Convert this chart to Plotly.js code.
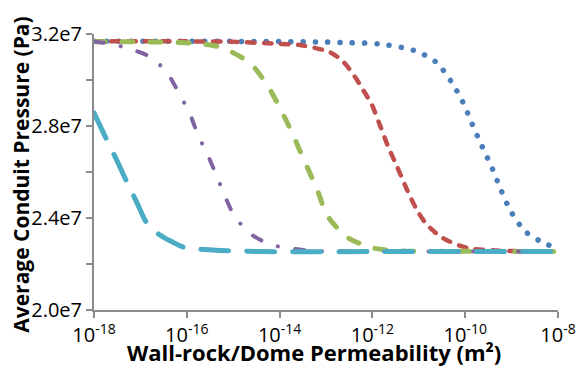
<!DOCTYPE html>
<html>
<head>
<meta charset="utf-8">
<script src="https://cdn.plot.ly/plotly-3.0.1.min.js"></script>
<style>
html,body{margin:0;padding:0;background:#fff;}
#chart{width:579px;height:371px;}
.js-line{stroke-linecap:round !important;stroke-linejoin:round !important;}
</style>
</head>
<body>
<div id="chart"></div>
<script>
// Permeability (m^2) and average conduit pressure (Pa)
var blueX = [1e-18, 1e-17, 1e-16, 1e-15, 1e-14, 1e-13, 3.2e-13, 1.38e-12, 8.3e-12, 2.34e-11, 4.9e-11, 8.9e-11, 1.41e-10, 2.29e-10, 3.8e-10, 5.9e-10, 9.8e-10, 2.04e-9, 5.5e-9, 1e-8];
var blueY = [3.168e7, 3.168e7, 3.168e7, 3.168e7, 3.167e7, 3.165e7, 3.162e7, 3.157e7, 3.127e7, 3.078e7, 2.996e7, 2.904e7, 2.809e7, 2.713e7, 2.617e7, 2.522e7, 2.426e7, 2.339e7, 2.287e7, 2.270e7];

var redX = [1e-18, 1e-17, 1e-16, 1e-15, 1e-14, 2.75e-14, 1.23e-13, 2.34e-13, 4.2e-13, 6.3e-13, 9.8e-13, 1.45e-12, 2.19e-12, 3.4e-12, 5.6e-12, 9.1e-12, 1.51e-11, 3.3e-11, 1.1e-10, 5.6e-10, 1e-8];
var redY = [3.168e7, 3.168e7, 3.168e7, 3.166e7, 3.157e7, 3.152e7, 3.120e7, 3.080e7, 3.014e7, 2.957e7, 2.891e7, 2.804e7, 2.710e7, 2.623e7, 2.522e7, 2.435e7, 2.370e7, 2.313e7, 2.270e7, 2.258e7, 2.255e7];

var greenX = [1e-18, 1e-17, 1.17e-16, 3.2e-16, 6e-16, 2.29e-15, 5.4e-15, 1.02e-14, 1.86e-14, 3.2e-14, 6.5e-14, 1.05e-13, 2.82e-13, 1.02e-12, 3.9e-12, 1e-10, 1e-8];
var greenY = [3.166e7, 3.166e7, 3.161e7, 3.152e7, 3.139e7, 3.074e7, 2.978e7, 2.878e7, 2.770e7, 2.661e7, 2.522e7, 2.413e7, 2.317e7, 2.270e7, 2.257e7, 2.255e7, 2.254e7];

var purpleX = [1e-18, 1.9e-18, 6e-18, 1.78e-17, 3.9e-17, 7.1e-17, 1.17e-16, 1.74e-16, 2.88e-16, 4.5e-16, 6.9e-16, 1.1e-15, 2.57e-15, 6.9e-15, 2.14e-14, 5.2e-14, 1e-12, 1e-8];
var purpleY = [3.166e7, 3.160e7, 3.135e7, 3.096e7, 3.026e7, 2.935e7, 2.852e7, 2.761e7, 2.670e7, 2.578e7, 2.487e7, 2.404e7, 2.326e7, 2.283e7, 2.265e7, 2.257e7, 2.255e7, 2.254e7];

var cyanX = [1e-18, 1.78e-18, 3.2e-18, 5.1e-18, 8.5e-18, 1.38e-17, 2.63e-17, 5e-17, 8.3e-17, 3.6e-16, 4.4e-15, 1e-12, 1e-8];
var cyanY = [2.857e7, 2.750e7, 2.645e7, 2.557e7, 2.465e7, 2.378e7, 2.326e7, 2.295e7, 2.274e7, 2.261e7, 2.254e7, 2.254e7, 2.254e7];

var xTickVals = [1e-18, 1e-16, 1e-14, 1e-12, 1e-10, 1e-8];
var xTickText = ['10<sup>-18</sup>', '10<sup>-16</sup>', '10<sup>-14</sup>', '10<sup>-12</sup>', '10<sup>-10</sup>', '10<sup>-8</sup>'];
var yTickVals = [2.0e7, 2.2e7, 2.4e7, 2.6e7, 2.8e7, 3.0e7, 3.2e7];
var yTickText = ['2.0e7', '', '2.4e7', '', '2.8e7', '', '3.2e7'];

var FONT = 'Open Sans, Noto Sans, sans-serif';
var AXC = '#8c8c8c';

function tr(x, y, color, width, dash) {
  return {x: x, y: y, type: 'scatter', mode: 'lines', showlegend: false, hoverinfo: 'skip',
          line: {color: color, width: width, dash: dash, shape: 'spline', smoothing: 0.8}};
}

var data = [
  tr(blueX, blueY, '#4a7ebb', 5.5, '0.1px,12.2px'),
  tr(redX, redY, '#c0504d', 4.5, '7.5px,9.5px'),
  tr(greenX, greenY, '#9bbb59', 5, '11px,17px'),
  tr(purpleX, purpleY, '#8064a2', 4, '9.5px,17.5px,0.1px,17.5px'),
  tr(cyanX, cyanY, '#4bacc6', 5, '28px,18px')
];

var layout = {
  width: 579, height: 371,
  margin: {l: 94, r: 21, t: 34, b: 61},
  paper_bgcolor: '#ffffff', plot_bgcolor: '#ffffff',
  font: {family: FONT, size: 20, color: '#000'},
  showlegend: false,
  xaxis: {
    type: 'log', range: [-18, -8],
    tickmode: 'array', tickvals: xTickVals, ticktext: xTickText,
    showgrid: false, zeroline: false, showline: true,
    linecolor: AXC, linewidth: 2, ticks: 'outside', tickcolor: AXC, tickwidth: 2, ticklen: 6,
    tickfont: {family: FONT, size: 20, color: '#000'}
  },
  yaxis: {
    range: [2.0e7, 3.2e7],
    tickmode: 'array', tickvals: yTickVals, ticktext: yTickText,
    showgrid: false, zeroline: false, showline: true,
    linecolor: AXC, linewidth: 2, ticks: 'outside', tickcolor: AXC, tickwidth: 2, ticklen: 6,
    tickfont: {family: FONT, size: 20, color: '#000'}
  },
  annotations: [
    {text: '<b>Wall-rock/Dome Permeability (m²)</b>', xref: 'paper', yref: 'paper',
     x: 0.475, y: -0.153, xanchor: 'center', yanchor: 'middle', showarrow: false,
     font: {family: FONT, size: 22, color: '#000'}},
    {text: '<b>Average Conduit Pressure (Pa)</b>', xref: 'paper', yref: 'paper',
     x: -0.158, y: 0.489, xanchor: 'center', yanchor: 'middle', showarrow: false, textangle: -90,
     font: {family: FONT, size: 21, color: '#000'}}
  ]
};

Plotly.newPlot('chart', data, layout, {staticPlot: true, displayModeBar: false});
</script>
</body>
</html>
